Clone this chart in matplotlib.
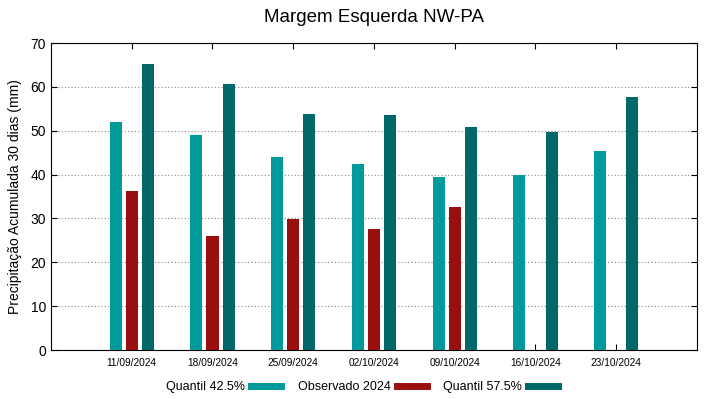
import matplotlib.pyplot as plt
from matplotlib.lines import Line2D
import numpy as np

plt.rcParams['font.family'] = ['Liberation Sans', 'DejaVu Sans']

datas = ['11/09/2024', '18/09/2024', '25/09/2024', '02/10/2024',
         '09/10/2024', '16/10/2024', '23/10/2024']
quantil_425 = [51.9, 49.0, 44.0, 42.5, 39.5, 39.8, 45.4]
observado = [36.3, 26.0, 29.9, 27.6, 32.7, np.nan, np.nan]
quantil_575 = [65.2, 60.7, 53.8, 53.6, 50.9, 49.6, 57.6]

cor_q1 = '#009a9a'
cor_obs = '#990f0f'
cor_q2 = '#006868'

fig = plt.figure(figsize=(7.19, 3.99), dpi=100)
ax = fig.add_axes([0.0709, 0.1228, 0.8985, 0.7694])

x = np.arange(len(datas))
larg = 0.15
ax.bar(x - 0.2, quantil_425, larg, color=cor_q1, zorder=3)
ax.bar(x, observado, larg, color=cor_obs, zorder=3)
ax.bar(x + 0.2, quantil_575, larg, color=cor_q2, zorder=3)

ax.set_xlim(-1, 7)
ax.set_ylim(0, 70)
ax.set_xticks(x)
ax.set_xticklabels(datas, fontsize=7.3)
ax.set_yticks(range(0, 71, 10))
ax.tick_params(axis='y', labelsize=10, direction='in', right=True, length=4)
ax.tick_params(axis='x', direction='in', top=True, length=4, pad=6)
ax.yaxis.grid(True, linestyle=(0, (1, 2)), color='#888888', linewidth=0.8)
for s in ax.spines.values():
    s.set_linewidth(0.8)

ax.set_ylabel('Precipitação Acumulada 30 dias (mm)', fontsize=10, labelpad=6)
ax.set_title('Margem Esquerda NW-PA', fontsize=13.5, pad=15)

handles = [Line2D([], [], color=c, linewidth=5) for c in (cor_q1, cor_obs, cor_q2)]
fig.legend(handles, ['Quantil 42.5%', 'Observado 2024', 'Quantil 57.5%'],
           loc='center', bbox_to_anchor=(362 / 719, 1 - 387 / 399), ncol=3,
           frameon=False, markerfirst=False, fontsize=9, handlelength=2.4,
           columnspacing=1.3, handletextpad=0.5)

fig.savefig('out.png', dpi=100)
